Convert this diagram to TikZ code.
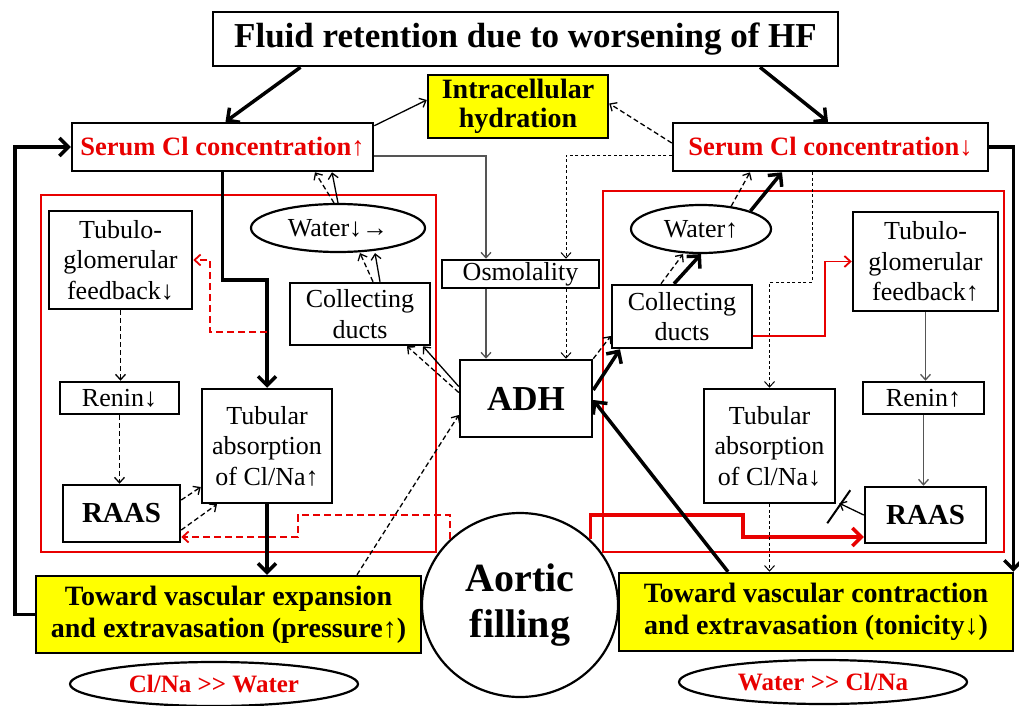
\documentclass[tikz,border=0pt]{standalone}
\usepackage{fontspec}
\setmainfont{Liberation Serif}
\usetikzlibrary{arrows.meta,calc,shapes.geometric}
\definecolor{yel}{RGB}{255,255,0}
\definecolor{rd}{RGB}{232,0,0}
\definecolor{gry}{RGB}{85,85,85}
\begin{document}
\begin{tikzpicture}[x=1pt,y=-1pt,
  box/.style={draw,line width=2.5pt,fill=white,inner sep=0pt,align=center,font=\fontsize{26}{30.5}\selectfont},
  ell/.style={ellipse,draw,line width=2.2pt,fill=white,inner sep=0pt,align=center,font=\fontsize{26}{30}\selectfont},
  thk/.style={line width=3.5pt,-{Straight Barb[length=9pt,width=18pt]}},
  thn/.style={line width=1.3pt,-{Straight Barb[length=5.5pt,width=10pt]}},
  dsh/.style={thn,dash pattern=on 5pt off 3pt},
  dtt/.style={thn,line width=1pt,dash pattern=on 3pt off 2.5pt},
  rdsh/.style={rd,line width=1.8pt,dash pattern=on 7pt off 4pt,-{Straight Barb[length=6pt,width=11pt]}},
  frame/.style={rd,line width=2.5pt}
]
\useasboundingbox (0,0) rectangle (1019,706);
% red frames
\draw[frame] (41,195) rectangle (436,552);
\draw[frame] (603,191) rectangle (1004,552);
% nodes
\node[box,minimum width=625pt,minimum height=54pt,font=\bfseries\fontsize{35}{40}\selectfont] (title) at (525.5,39) {Fluid retention due to worsening of HF};
\node[box,fill=yel,minimum width=180pt,minimum height=63pt,font=\bfseries\fontsize{28}{29}\selectfont] (hyd) at (518,106.5) {Intracellular\\hydration};
\node[box,minimum width=301pt,minimum height=48pt,font=\bfseries\fontsize{26.5}{30}\selectfont,text=rd] (sL) at (222.5,147) {Serum Cl concentration↑};
\node[box,minimum width=315pt,minimum height=48pt,font=\bfseries\fontsize{26.5}{30}\selectfont,text=rd] (sR) at (830.5,147) {Serum Cl concentration↓};
\node[box,minimum width=143pt,minimum height=98pt] (tgL) at (120.5,260) {Tubulo-\\glomerular\\feedback↓};
\node[ell,minimum width=174pt,minimum height=48pt] (wL) at (338,228) {Water↓→};
\node[box,minimum width=140pt,minimum height=62pt] (cdL) at (360,314) {Collecting\\ducts};
\node[box,minimum width=157pt,minimum height=28pt] (osm) at (520.5,274) {Osmolality};
\node[box,minimum width=132pt,minimum height=77pt,font=\bfseries\fontsize{35}{40}\selectfont] (adh) at (526,398.5) {ADH};
\node[box,minimum width=119pt,minimum height=32pt] (reninL) at (119.5,398) {Renin↓};
\node[box,minimum width=130pt,minimum height=114pt] (taL) at (267,446) {Tubular\\absorption\\of Cl/Na↑};
\node[box,minimum width=117pt,minimum height=57pt,font=\bfseries\fontsize{29}{32}\selectfont] (raasL) at (121.5,513.5) {RAAS};
\node[ell,minimum width=196pt,minimum height=184pt,font=\bfseries\fontsize{40}{46}\selectfont] (aortic) at (520,605) {Aortic\\filling};
\node[box,fill=yel,minimum width=385pt,minimum height=77pt,font=\bfseries\fontsize{28}{32}\selectfont] (yL) at (228.5,614.5) {Toward vascular expansion\\and extravasation (pressure↑)};
\node[box,fill=yel,minimum width=394pt,minimum height=78pt,font=\bfseries\fontsize{28}{32}\selectfont] (yR) at (816,612) {Toward vascular contraction\\and extravasation (tonicity↓)};
\node[ell,minimum width=288pt,minimum height=44pt,font=\bfseries\fontsize{25}{28}\selectfont,text=rd] (ovL) at (214,684) {Cl/Na >\kern0pt> Water};
\node[ell,minimum width=288pt,minimum height=44pt,font=\bfseries\fontsize{25}{28}\selectfont,text=rd] (ovR) at (823,682) {Water >\kern0pt> Cl/Na};
\node[ell,minimum width=140pt,minimum height=48pt] (wR) at (701,229) {Water↑};
\node[box,minimum width=140pt,minimum height=63pt] (cdR) at (682,316.5) {Collecting\\ducts};
\node[box,minimum width=145pt,minimum height=99pt] (tgR) at (925.5,261.5) {Tubulo-\\glomerular\\feedback↑};
\node[box,minimum width=121pt,minimum height=32pt] (reninR) at (923.5,398) {Renin↑};
\node[box,minimum width=131pt,minimum height=114pt] (taR) at (769.5,446) {Tubular\\absorption\\of Cl/Na↓};
\node[box,minimum width=121pt,minimum height=56pt,font=\bfseries\fontsize{29}{32}\selectfont] (raasR) at (925.5,515) {RAAS};
% helper coordinates
\coordinate (kL) at (267,280);
\coordinate (rdL) at (267,332);
\coordinate (rL1) at (298,515);
\coordinate (rR1) at (743,515);
\coordinate (kR) at (769.5,282);
% connectors
\draw[thk] ([xshift=-225pt]title.south) -- ([xshift=3pt]sL.north);
\draw[thk] ([xshift=234.5pt]title.south) -- ([xshift=-2.5pt]sR.north);
\draw[thn] ([yshift=-4pt]sL.north east) -- ([yshift=6.5pt]hyd.west);
\draw[dsh] ([yshift=4pt]sR.west) -- ([yshift=3pt]hyd.east);
\draw[thn,gry] ([yshift=-9pt]sL.east) -| ([xshift=-34.5pt]osm.north);
\draw[thn,gry] ([xshift=-34.5pt]osm.south) -- ([xshift=-34.5pt]osm.south |- adh.north);
\draw[dtt] ([yshift=-8pt]sR.west) -| ([xshift=45.5pt]osm.north);
\draw[dtt] ([xshift=45.5pt]osm.south) -- ([xshift=45.5pt]osm.south |- adh.north);
\draw[thk] (sL.south) -- (sL.south |- kL) -| (taL.north);
\draw[thk] (taL.south) -- (taL.south |- yL.north);
\draw[rdsh] (rdL) -| ($(tgL.east)+(17,0)$) -- (tgL.east);
\draw[thn] (wL.north) -- ([xshift=109.5pt]sL.south);
\draw[dsh] ([xshift=-4pt]wL.north) -- ([xshift=92.5pt]sL.south);
\draw[thn] ([xshift=20pt]cdL.north) -- ([xshift=37pt]wL.south);
\draw[dsh] ([xshift=13pt]cdL.north) -- ([xshift=22pt]wL.south);
\draw[thn] ([yshift=12pt]adh.west) -- ([xshift=63pt]cdL.south);
\draw[dsh] ([yshift=6pt]adh.west) -- ([xshift=47pt]cdL.south);
\draw[dsh] ([xshift=128.5pt]yL.north) -- ([yshift=-16.5pt]adh.west);
\draw[dsh] (tgL.south) -- (tgL.south |- reninL.north);
\draw[dsh] (reninL.south) -- (reninL.south |- raasL.north);
\draw[dsh] ([yshift=13.5pt]raasL.east) -- ([yshift=-41pt]taL.west);
\draw[dsh] ([yshift=-16.5pt]raasL.east) -- ([xshift=-50pt]taL.south);
\draw[rdsh] (aortic.137) |- (rL1) |- ([yshift=-23.5pt]raasL.east);
\draw[rd,line width=3.5pt,-{Straight Barb[length=9pt,width=18pt]}] (aortic.43) |- (rR1) |- ([yshift=-22pt]raasR.west);
\draw[thk] ([xshift=-88pt]yR.north) -- ([yshift=-1.5pt]adh.east);
\draw[thk] ([yshift=8.5pt]adh.east) -- ([xshift=-62pt]cdR.south);
\draw[dsh] (adh.north east) -- ([yshift=-19.5pt]cdR.west);
\draw[thk] ([xshift=-8pt]cdR.north) -- (wR.south);
\draw[dsh] ([xshift=-21pt]cdR.north) -- ([xshift=-18pt]wR.south);
\draw[thk] (wR.20) -- ([xshift=-48.5pt]sR.south);
\draw[dsh] (wR.37) -- ([xshift=-80.5pt]sR.south);
\draw[dtt] ([xshift=-18.5pt]sR.south) |- (kR) -- (taR.north);
\draw[dtt] (taR.south) -- (taR.south |- yR.north);
\draw[rd,line width=1.8pt,-{Straight Barb[length=6pt,width=11pt]}] ([yshift=-19.5pt]cdR.east) -| ($(tgR.west)+(-27,0)$) -- (tgR.west);
\draw[thn,gry] (tgR.south) -- (tgR.south |- reninR.north);
\draw[thn,gry] (reninR.south) -- (reninR.south |- raasR.north);
\draw[thn] (raasR.west) -- ([shift={(3pt,1pt)}]taR.south east);
\draw[line width=2pt] ([shift={(-9pt,-19pt)}]taR.south east) -- ++(23pt,33pt);
\draw[thk] (sR.east) -| ([xshift=-1pt]yR.north east);
\draw[thk] (yL.west) -| ($(sL.west)+(-56,0)$) -- (sL.west);
\end{tikzpicture}
\end{document}
